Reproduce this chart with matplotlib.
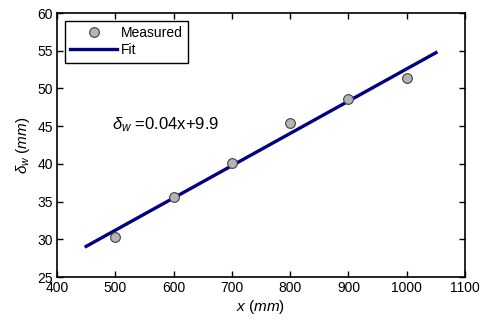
import matplotlib
matplotlib.use('Agg')
import matplotlib.pyplot as plt
import numpy as np

plt.rcParams.update({
    'font.family': 'Liberation Sans',
    'font.size': 10,
    'mathtext.fontset': 'custom',
    'mathtext.rm': 'Liberation Sans',
    'mathtext.it': 'Liberation Sans:italic',
    'mathtext.bf': 'Liberation Sans:bold',
})

# measured deflection vs length
x_meas = [500, 600, 700, 800, 900, 1000]
d_meas = [30.3, 35.6, 40.1, 45.4, 48.6, 51.4]
fit_range = [450, 1050]

slope, icpt = np.polyfit(x_meas, d_meas, 1)
x_fit = np.linspace(fit_range[0], fit_range[1], 50)
d_fit = slope * x_fit + icpt

fig = plt.figure(figsize=(4.87, 3.21), dpi=100)
ax = fig.add_axes([0.117, 0.137, 0.838, 0.8225])

ax.plot(x_meas, d_meas, 'o', ms=7, mfc='#B4B4B4', mec='#404040', mew=0.8,
        label='Measured', zorder=3)
ax.plot(x_fit, d_fit, color='#000080', lw=2.4, label='Fit', zorder=2)

ax.text(494, 45.2, r'$\delta_w$ =0.04x+9.9', fontsize=12, va='center')

ax.set_xlim(400, 1100)
ax.set_ylim(25, 60)
ax.set_xticks(np.arange(400, 1101, 100))
ax.set_yticks(np.arange(25, 61, 5))
ax.tick_params(direction='in', top=True, right=True, length=4, width=1,
               pad=3, labelsize=10)
for s in ax.spines.values():
    s.set_linewidth(1.2)

ax.set_xlabel(r'$\mathit{x\ (mm)}$', fontsize=11, labelpad=2)
ax.set_ylabel(r'$\delta_w\ \mathit{(mm)}$', fontsize=11, labelpad=4)

leg = ax.legend(loc='upper left', fancybox=False, edgecolor='black',
                handlelength=3.4, handletextpad=0.25, borderpad=0.4,
                labelspacing=0.2, fontsize=10, framealpha=1,
                borderaxespad=0.55)
leg.get_frame().set_linewidth(1.0)

fig.savefig('out.png', dpi=100, facecolor='white')
